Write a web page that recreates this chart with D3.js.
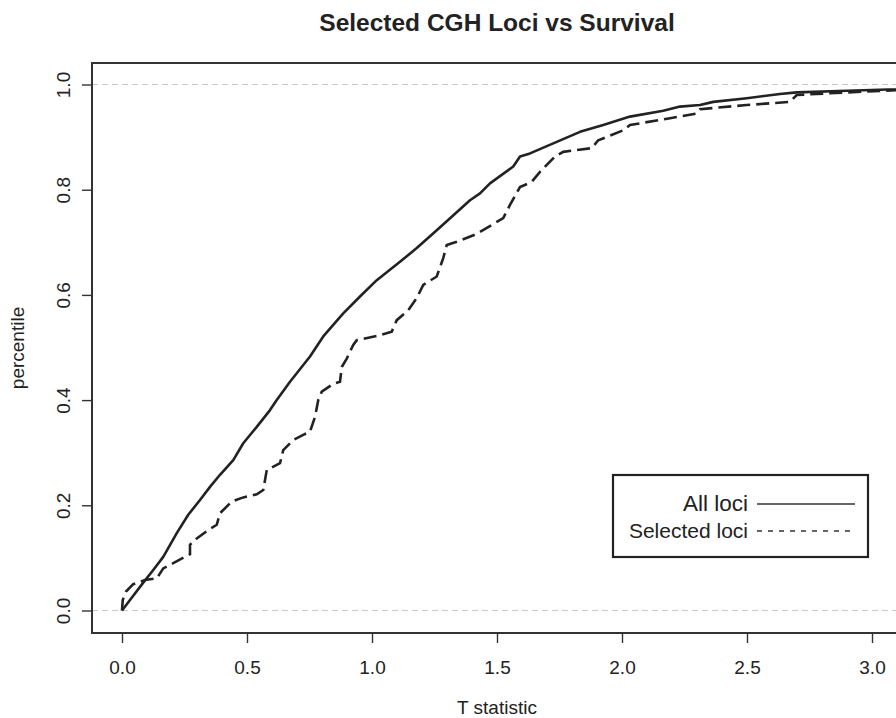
<!DOCTYPE html>
<html>
<head>
<meta charset="utf-8">
<script src="https://cdn.jsdelivr.net/npm/d3@7"></script>
<style>
  html, body { margin: 0; padding: 0; background: #fff; }
  svg { display: block; font-family: "Liberation Sans", Arial, Helvetica, sans-serif; }
</style>
</head>
<body>
<svg id="chart" width="896" height="718"></svg>
<script>
// ECDF-style curves: T statistic vs percentile
const allLociT = [0, 0.032, 0.085, 0.125, 0.165, 0.219, 0.265, 0.312, 0.352, 0.392, 0.445, 0.485, 0.539, 0.592, 0.619, 0.672, 0.752, 0.805, 0.885, 0.952, 1.019, 1.112, 1.179, 1.259, 1.299, 1.392, 1.432, 1.472, 1.565, 1.592, 1.632, 1.739, 1.832, 1.925, 2.032, 2.165, 2.232, 2.312, 2.365, 2.499, 2.632, 2.699, 2.899, 3.096, 3.12];
const allLociP = [0, 0.020, 0.053, 0.077, 0.102, 0.147, 0.182, 0.210, 0.235, 0.258, 0.286, 0.318, 0.349, 0.381, 0.400, 0.435, 0.483, 0.521, 0.565, 0.597, 0.628, 0.663, 0.689, 0.723, 0.740, 0.780, 0.793, 0.812, 0.844, 0.863, 0.869, 0.891, 0.910, 0.923, 0.939, 0.950, 0.958, 0.961, 0.967, 0.974, 0.982, 0.985, 0.988, 0.991, 0.993];

const selLociT = [0, 0.003, 0.016, 0.045, 0.092, 0.139, 0.165, 0.205, 0.272, 0.272, 0.299, 0.345, 0.379, 0.392, 0.439, 0.485, 0.539, 0.565, 0.579, 0.632, 0.645, 0.685, 0.725, 0.752, 0.772, 0.785, 0.799, 0.845, 0.872, 0.879, 0.899, 0.925, 0.939, 1.019, 1.079, 1.099, 1.145, 1.179, 1.205, 1.259, 1.285, 1.299, 1.339, 1.419, 1.525, 1.552, 1.592, 1.639, 1.672, 1.732, 1.765, 1.879, 1.905, 2.005, 2.032, 2.192, 2.299, 2.312, 2.499, 2.672, 2.699, 2.899, 3.096, 3.12];
const selLociP = [0, 0.020, 0.036, 0.050, 0.058, 0.061, 0.080, 0.090, 0.107, 0.125, 0.137, 0.153, 0.163, 0.185, 0.207, 0.215, 0.221, 0.229, 0.267, 0.280, 0.305, 0.324, 0.334, 0.340, 0.368, 0.400, 0.416, 0.431, 0.435, 0.463, 0.479, 0.505, 0.514, 0.522, 0.530, 0.552, 0.571, 0.594, 0.619, 0.635, 0.670, 0.695, 0.701, 0.716, 0.746, 0.771, 0.805, 0.815, 0.834, 0.863, 0.872, 0.879, 0.894, 0.913, 0.923, 0.936, 0.945, 0.953, 0.961, 0.967, 0.980, 0.985, 0.989, 0.990];

const xTicks = [0, 0.5, 1.0, 1.5, 2.0, 2.5, 3.0];
const yTicks = [0, 0.2, 0.4, 0.6, 0.8, 1.0];
const refLines = [0, 1];
const legendLabels = ['All loci', 'Selected loci'];

const svg = d3.select('#chart');
const plot = { left: 92, right: 902, top: 63, bottom: 633 };

const x = d3.scaleLinear().domain([-0.12, 3.12]).range([plot.left, plot.right]);
const y = d3.scaleLinear().domain([-0.0428, 1.0409]).range([plot.bottom, plot.top]);
const fmt = d3.format('.1f');
const ink = '#222';

svg.append('defs').append('clipPath').attr('id', 'clip')
  .append('rect')
  .attr('x', plot.left).attr('y', plot.top)
  .attr('width', plot.right - plot.left).attr('height', plot.bottom - plot.top);

// light dashed reference lines at 0 and 1
svg.append('g').selectAll('line')
  .data(refLines)
  .join('line')
  .attr('x1', plot.left).attr('x2', plot.right)
  .attr('y1', d => y(d)).attr('y2', d => y(d))
  .attr('stroke', '#c8c8c8')
  .attr('stroke-width', 1.2)
  .attr('stroke-dasharray', '6,4');

const line = d3.line().x(d => x(d[0])).y(d => y(d[1]));
const curves = svg.append('g').attr('clip-path', 'url(#clip)');

curves.append('path')
  .datum(d3.zip(allLociT, allLociP))
  .attr('d', line)
  .attr('fill', 'none')
  .attr('stroke', ink)
  .attr('stroke-width', 2.6)
  .attr('stroke-linejoin', 'round');

curves.append('path')
  .datum(d3.zip(selLociT, selLociP))
  .attr('d', line)
  .attr('fill', 'none')
  .attr('stroke', ink)
  .attr('stroke-width', 2.6)
  .attr('stroke-dasharray', '13,6');

// plot box
svg.append('rect')
  .attr('x', plot.left).attr('y', plot.top)
  .attr('width', plot.right - plot.left).attr('height', plot.bottom - plot.top)
  .attr('fill', 'none')
  .attr('stroke', '#333')
  .attr('stroke-width', 2);

// axes
const xAxis = svg.append('g')
  .attr('transform', `translate(0,${plot.bottom})`)
  .call(d3.axisBottom(x).tickValues(xTicks).tickFormat(fmt).tickSize(10).tickPadding(17.5));

const yAxis = svg.append('g')
  .attr('transform', `translate(${plot.left},0)`)
  .call(d3.axisLeft(y).tickValues(yTicks).tickFormat(fmt).tickSize(10));

for (const ax of [xAxis, yAxis]) {
  ax.select('.domain').remove();
  ax.selectAll('line').attr('stroke', '#333').attr('stroke-width', 1.4);
  ax.selectAll('text').attr('fill', ink).style('font-size', '19px');
}
yAxis.selectAll('text')
  .attr('transform', 'rotate(-90)')
  .attr('text-anchor', 'middle')
  .attr('x', 0).attr('y', -22).attr('dy', 0);

// titles
svg.append('text')
  .attr('x', (plot.left + plot.right) / 2).attr('y', 31)
  .attr('text-anchor', 'middle')
  .style('font-size', '24.5px').style('font-weight', 'bold')
  .attr('fill', ink)
  .text('Selected CGH Loci vs Survival');

svg.append('text')
  .attr('x', (plot.left + plot.right) / 2).attr('y', 714)
  .attr('text-anchor', 'middle')
  .style('font-size', '19px')
  .attr('fill', ink)
  .text('T statistic');

svg.append('text')
  .attr('transform', `translate(24,${(plot.top + plot.bottom) / 2}) rotate(-90)`)
  .attr('text-anchor', 'middle')
  .style('font-size', '19px')
  .attr('fill', ink)
  .text('percentile');

// legend
const legend = svg.append('g');
legend.append('rect')
  .attr('x', 613).attr('y', 475).attr('width', 255).attr('height', 82)
  .attr('fill', '#fff').attr('stroke', ink).attr('stroke-width', 2.2);

const rows = [
  { label: legendLabels[0], y: 504, size: 22.5, dash: null },
  { label: legendLabels[1], y: 531, size: 21, dash: '5,6' },
];
legend.selectAll('text')
  .data(rows)
  .join('text')
  .attr('x', 748).attr('y', d => d.y + 7)
  .attr('text-anchor', 'end')
  .style('font-size', d => d.size + 'px')
  .attr('fill', ink)
  .text(d => d.label);
legend.selectAll('line')
  .data(rows)
  .join('line')
  .attr('x1', 757).attr('x2', 855)
  .attr('y1', d => d.y).attr('y2', d => d.y)
  .attr('stroke', '#333').attr('stroke-width', 1.3)
  .attr('stroke-dasharray', d => d.dash);
</script>
</body>
</html>
